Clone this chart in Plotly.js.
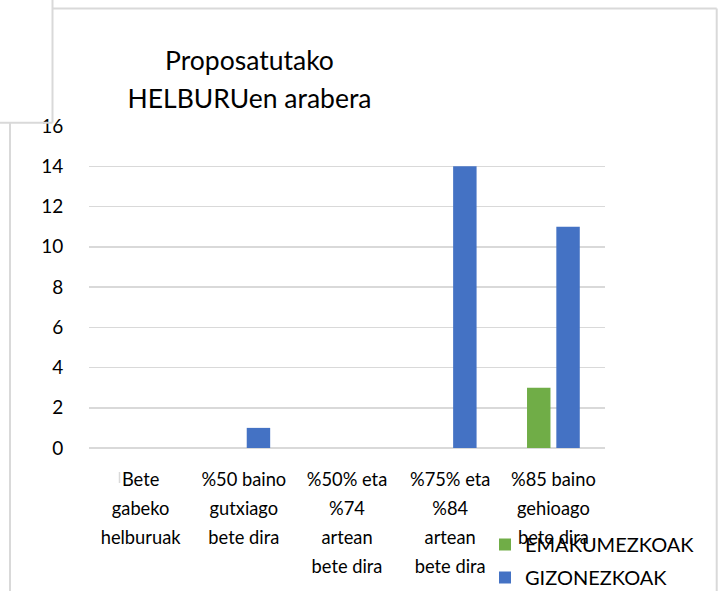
<!DOCTYPE html>
<html>
<head>
<meta charset="utf-8">
<script src="https://cdn.plot.ly/plotly-3.0.1.min.js"></script>
<style>html,body{margin:0;padding:0;background:#fff;}#chart{width:720px;height:591px;}</style>
</head>
<body>
<div id="chart"></div>
<script>
const categories = [
  "Bete<br>gabeko<br>helburuak",
  "%50 baino<br>gutxiago<br>bete dira",
  "%50% eta<br>%74<br>artean<br>bete dira",
  "%75% eta<br>%84<br>artean<br>bete dira",
  "%85 baino<br>gehioago<br>bete dira"
];
const categoryKeys = ["c1", "c2", "c3", "c4", "c5"];
const emakumezkoak = [0, 0, 0, 0, 3];
const gizonezkoak = [0, 1, 0, 14, 11];
const seriesNames = ["EMAKUMEZKOAK", "GIZONEZKOAK"];
const yTicks = [0, 2, 4, 6, 8, 10, 12, 14, 16];
const titleText = "Proposatutako<br>HELBURUen arabera";

const FONT = "Lato, 'Open Sans', sans-serif";
const GRID = "#d9d9d9";

// plot area in pixels
const L = 89, R = 605, T = 126, B = 448, W = 720, H = 591;
const px = v => (v - L) / (R - L);
const py = v => (B - v) / (B - T);
function line(x0, y0, x1, y1, w) {
  return {type: "line", xref: "paper", yref: "paper",
    x0: px(x0), y0: py(y0), x1: px(x1), y1: py(y1),
    line: {color: GRID, width: w || 2}, layer: "above"};
}
// smaller glyphs inside a larger line pitch (Calibri-like spacing)
const sized = (s, size) => s.split("<br>").map(t => '<span style="font-size:' + size + 'px">' + t + '</span>').join("<br>");

const traces = [
  {type: "bar", name: seriesNames[0], x: categoryKeys, y: emakumezkoak,
   marker: {color: "#70ad47"}, legendgroup: "a", hoverinfo: "none"},
  {type: "bar", name: seriesNames[1], x: categoryKeys, y: gizonezkoak,
   marker: {color: "#4472c4"}, legendgroup: "b", hoverinfo: "none"}
];

const layout = {
  width: W, height: H,
  margin: {l: L, r: W - R, t: T, b: H - B, pad: 0, autoexpand: false},
  paper_bgcolor: "#ffffff", plot_bgcolor: "#ffffff",
  font: {family: FONT, color: "#000000"},
  barmode: "group", bargap: 0.432, bargroupgap: 0.2,
  title: {text: sized(titleText, 26.5),
    font: {family: FONT, size: 29, color: "#000000"},
    xref: "container", yref: "container",
    x: 249.5 / W, xanchor: "center", y: 1 - 70 / H, yanchor: "middle"},
  xaxis: {type: "category", tickmode: "array", tickvals: categoryKeys,
    ticktext: categories.map(c => sized(c, 18.3)),
    showgrid: false, showline: false, zeroline: false, automargin: false,
    ticks: "outside", ticklen: 10, tickcolor: "rgba(0,0,0,0)",
    tickfont: {family: FONT, size: 22.3, color: "#000000"}, fixedrange: true},
  yaxis: {range: [0, 16], tickmode: "array", tickvals: yTicks, ticktext: yTicks.map(String),
    showgrid: true, gridcolor: GRID, gridwidth: 1.5, automargin: false,
    zeroline: true, zerolinecolor: GRID, zerolinewidth: 2, showline: false,
    ticks: "outside", ticklen: 21, tickcolor: "rgba(0,0,0,0)",
    tickfont: {family: FONT, size: 19, color: "#000000"}, fixedrange: true},
  showlegend: true,
  legend: {x: px(485), xanchor: "left", y: py(525), yanchor: "top",
    bgcolor: "rgba(0,0,0,0)", borderwidth: 0,
    font: {family: FONT, size: 20, color: "#000000"},
    traceorder: "grouped", tracegroupgap: 4},
  shapes: [
    line(52.5, 8.5, 716.7, 8.5),
    line(716.7, 8.5, 716.7, 595),
    line(52.5, -2, 52.5, 122.7),
    line(-2, 122.7, 52.5, 122.7),
    line(10, 122.7, 10, 595),
    line(119.5, 472, 119.5, 483, 1.5)
  ]
};

Plotly.newPlot("chart", traces, layout, {displayModeBar: false, staticPlot: true});
</script>
</body>
</html>
